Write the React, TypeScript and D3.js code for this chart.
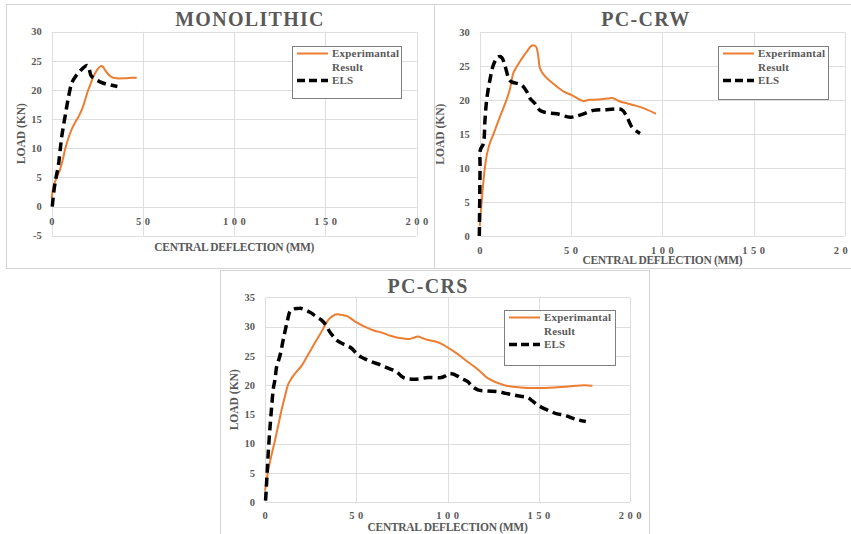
import React from "react";
import * as d3 from "d3";

type Pt = [number, number];

// Load–deflection readings, [central deflection (mm), load (kN)]
const monolithicExperimental: Pt[] = [
  [0, 1.5], [1, 3.5], [2.5, 4.8], [4.5, 6.3], [6, 8], [7.5, 10], [9, 11.6],
  [11, 13.3], [13, 14.5], [15, 15.6], [17, 17], [18.5, 18.5], [20, 20],
  [21.5, 21.2], [23, 22.4], [25, 23.5], [26.8, 24.1], [28, 24], [29.3, 23.4],
  [31, 22.7], [33, 22.2], [35.5, 22], [40, 22], [44, 22.1], [46.6, 22.1],
];
const monolithicELS: Pt[] = [
  [0.3, 0], [1.3, 2.9], [2.4, 5], [3.6, 6.9], [4.5, 9.3], [5.5, 12], [7.3, 15.4],
  [9.1, 18.6], [11, 21.2], [12.8, 22.2], [14.6, 22.9], [17, 23.7], [19.3, 24.2],
  [20.5, 23.6], [21.5, 22.5], [23, 22], [26.5, 21.4], [30, 21], [33, 20.8], [36, 20.6],
];

const crwExperimental: Pt[] = [
  [0, 1.5], [0.6, 3.5], [1.1, 5.1], [2, 8], [2.9, 10.2], [3.8, 11.8], [4.7, 12.9],
  [6, 14], [7.4, 14.9], [10, 16.8], [12.9, 18.8], [15, 20.3], [16.6, 21.7],
  [18.4, 24], [20, 24.8], [22, 25.7], [24, 26.5], [25.7, 27.1], [27.5, 27.8],
  [29, 28.1], [30.8, 27.9], [32.1, 26.4], [33, 24.7], [35.8, 23.5], [40, 22.5],
  [45.8, 21.3], [50, 20.8], [54, 20.2], [56.5, 19.9], [60, 20.05], [65, 20.1],
  [71.4, 20.3], [73, 20.3], [76.8, 19.8], [80, 19.6], [84, 19.3], [90, 18.8], [96.5, 18],
];
const crwELS: Pt[] = [
  [-0.2, 0], [0, 5], [0.2, 10], [0.4, 12.7], [2, 13.6], [2.9, 17.1], [3.8, 20],
  [5.6, 23], [7.8, 25.4], [10.2, 26.4], [12, 26.3], [13.9, 25], [16.2, 23],
  [17.5, 22.7], [23, 22.2], [25.7, 21.3], [27.5, 20.3], [30.3, 19.5], [33, 18.5],
  [35.8, 18.2], [42.2, 18], [49.5, 17.5], [54.9, 17.8], [62.2, 18.5], [69.6, 18.6],
  [77.8, 18.6], [80.5, 17.6], [83.2, 16.1], [86, 15.4], [87.8, 15.1],
];

const crsExperimental: Pt[] = [
  [0, 2], [1, 4], [1.8, 5.5], [3.5, 8], [5.5, 10.6], [7.3, 13.2], [9.1, 15.8],
  [11, 18.2], [12.8, 20.2], [14.6, 21.2], [17, 22.2], [20, 23.3], [22.5, 24.6],
  [25.5, 26.2], [28, 27.6], [30, 28.6], [32.5, 30], [34.6, 31.1], [37, 31.8],
  [39.5, 32.1], [42, 32], [45.5, 31.7], [49.2, 30.9], [54.6, 30], [60, 29.3],
  [63.8, 29], [69.2, 28.4], [74.7, 28], [79.2, 27.9], [81.5, 28.1], [83.8, 28.3],
  [86.5, 28], [89.3, 27.7], [93.8, 27.4], [97, 27], [100.2, 26.4], [105.6, 25.3],
  [111, 24], [117, 22.6], [122, 21.2], [131, 20], [140, 19.6], [149.4, 19.5],
  [158.5, 19.6], [167.6, 19.8], [174.9, 20], [179.4, 19.9],
];
const crsELS: Pt[] = [
  [0.3, 0.3], [1, 4], [1.8, 8.6], [2.8, 13], [3.7, 16.5], [4.6, 19.5], [5.5, 21],
  [6.4, 23.2], [7.5, 24.3], [8.5, 25.4], [9.7, 27.3], [10.9, 29.1], [12.3, 31],
  [13.7, 32.6], [15.5, 33], [18, 33.1], [20, 33.1], [23, 32.7], [25.5, 32.3],
  [28, 31.7], [31, 31.1], [33.5, 30.2], [35.5, 29.1], [37.5, 28.3], [39.2, 27.7],
  [43, 27], [47.4, 26.3], [51, 25.1], [54, 24.6], [58.3, 24], [63, 23.5],
  [67.4, 22.9], [72, 22.3], [74.5, 21.6], [76.5, 21.2], [82, 21], [89.3, 21.3],
  [96.6, 21.3], [99, 21.6], [101.1, 22], [103, 21.9], [105.7, 21.5], [108, 21.1],
  [111.1, 20.6], [113.5, 19.8], [116.6, 19.2], [122, 19], [127.5, 18.9], [132, 18.6],
  [136.6, 18.3], [140, 18.1], [143.9, 17.9], [146.5, 17.3], [149.4, 16.6], [153, 16],
  [156.7, 15.5], [160, 15.1], [164, 14.9], [168, 14.4], [171.2, 14.1], [175.8, 13.8],
];

const xTicks = [0, 50, 100, 150, 200];
const monolithicYTicks = [-5, 0, 5, 10, 15, 20, 25, 30];
const crwYTicks = [0, 5, 10, 15, 20, 25, 30];
const crsYTicks = [0, 5, 10, 15, 20, 25, 30, 35];

const seriesNames = ["Experimantal", "Result", "ELS"];
const xTitle = "CENTRAL DEFLECTION (MM)";
const yTitle = "LOAD (KN)";

const FONT = "'Liberation Serif', 'Times New Roman', serif";
const TEXT = "#595959";
const GRID = "#dedede";
const FRAME = "#d4d4d4";
const ORANGE = "#ED7D31";

interface PanelProps {
  title: string;
  titleX: number;
  titleY: number;
  frame: [number, number, number, number];
  xRange: [number, number];
  yRange: [number, number]; // [bottom, top] px
  yTicks: number[];
  xTickY: number;
  xTitleY: number;
  yTitleX: number;
  legend: [number, number, number, number];
  experimental: Pt[];
  els: Pt[];
}

function Panel(p: PanelProps) {
  const yDom: [number, number] = [p.yTicks[0], p.yTicks[p.yTicks.length - 1]];
  const x = d3.scaleLinear().domain([0, 200]).range(p.xRange);
  const y = d3.scaleLinear().domain(yDom).range(p.yRange);
  const line = d3
    .line<Pt>()
    .x((d) => x(d[0]))
    .y((d) => y(d[1]))
    .curve(d3.curveCatmullRom.alpha(0.5));
  const [fx0, fy0, fx1, fy1] = p.frame;
  const [lx, ly, lw, lh] = p.legend;
  const plotMidX = (p.xRange[0] + p.xRange[1]) / 2;
  const plotMidY = (p.yRange[0] + p.yRange[1]) / 2;
  return (
    <g>
      <rect x={fx0 + 0.5} y={fy0 + 0.5} width={fx1 - fx0} height={fy1 - fy0} fill="white" stroke={FRAME} strokeWidth={1} />
      <text x={p.titleX} y={p.titleY} textAnchor="middle" fontFamily={FONT} fontWeight="bold" fontSize={20} letterSpacing={1.3} fill={TEXT}>
        {p.title}
      </text>
      {p.yTicks.map((t) => (
        <line key={"h" + t} x1={p.xRange[0]} x2={p.xRange[1]} y1={Math.round(y(t)) + 0.5} y2={Math.round(y(t)) + 0.5} stroke={GRID} strokeWidth={1} />
      ))}
      {xTicks.map((t) => (
        <line key={"v" + t} x1={Math.round(x(t)) + 0.5} x2={Math.round(x(t)) + 0.5} y1={p.yRange[1]} y2={p.yRange[0]} stroke={GRID} strokeWidth={1} />
      ))}
      {p.yTicks.map((t) => (
        <text key={"yl" + t} x={p.xRange[0] - 10} y={y(t)} dy="0.35em" textAnchor="end" fontFamily={FONT} fontWeight="bold" fontSize={10.5} fill={TEXT}>
          {t}
        </text>
      ))}
      {xTicks.map((t) => (
        <text key={"xl" + t} x={x(t) + 1.8} y={p.xTickY} dy="0.35em" textAnchor="middle" fontFamily={FONT} fontWeight="bold" fontSize={10.5} letterSpacing={3.5} fill={TEXT}>
          {t}
        </text>
      ))}
      <text x={plotMidX} y={p.xTitleY} dy="0.35em" textAnchor="middle" fontFamily={FONT} fontWeight="bold" fontSize={11.5} letterSpacing={-0.3} fill={TEXT}>
        {xTitle}
      </text>
      <text transform={`translate(${p.yTitleX},${plotMidY}) rotate(-90)`} dy="0.35em" textAnchor="middle" fontFamily={FONT} fontWeight="bold" fontSize={11.5} fill={TEXT}>
        {yTitle}
      </text>
      <path d={line(p.experimental) ?? ""} fill="none" stroke={ORANGE} strokeWidth={2} strokeLinejoin="round" />
      <path d={line(p.els) ?? ""} fill="none" stroke="#000" strokeWidth={3.5} strokeDasharray="9,5" />
      <rect x={lx + 0.5} y={ly + 0.5} width={lw} height={lh} fill="white" stroke="#7f7f7f" strokeWidth={1} />
      <line x1={lx + 5} x2={lx + 36} y1={ly + 7.5} y2={ly + 7.5} stroke={ORANGE} strokeWidth={2} />
      <line x1={lx + 5} x2={lx + 36} y1={ly + 34.5} y2={ly + 34.5} stroke="#000" strokeWidth={3.5} strokeDasharray="8,4" />
      {seriesNames.map((s, i) => (
        <text key={s} x={lx + 40} y={ly + [7.5, 21, 34.5][i]} dy="0.35em" fontFamily={FONT} fontWeight="bold" fontSize={11} letterSpacing={0.2} fill={TEXT}>
          {s}
        </text>
      ))}
    </g>
  );
}

export default function App() {
  return (
    <svg width={851} height={534} style={{ position: "absolute", left: 0, top: 0, background: "white" }}>
      <Panel
        title="MONOLITHIC"
        titleX={250}
        titleY={26}
        frame={[6, 4, 434, 268]}
        xRange={[51.7, 416.7]}
        yRange={[235.7, 31.7]}
        yTicks={monolithicYTicks}
        xTickY={221.7}
        xTitleY={247}
        yTitleX={21}
        legend={[292, 46, 109, 52]}
        experimental={monolithicExperimental}
        els={monolithicELS}
      />
      <Panel
        title="PC-CRW"
        titleX={646}
        titleY={26}
        frame={[434, 4, 853, 268]}
        xRange={[479.7, 845]}
        yRange={[236, 32.3]}
        yTicks={crwYTicks}
        xTickY={250}
        xTitleY={260}
        yTitleX={440}
        legend={[718, 46, 110, 53]}
        experimental={crwExperimental}
        els={crwELS}
      />
      <Panel
        title="PC-CRS"
        titleX={428}
        titleY={292.5}
        frame={[220, 270, 649, 540]}
        xRange={[265, 630]}
        yRange={[502.3, 297.3]}
        yTicks={crsYTicks}
        xTickY={515.7}
        xTitleY={526.7}
        yTitleX={234}
        legend={[504, 310, 111, 55]}
        experimental={crsExperimental}
        els={crsELS}
      />
    </svg>
  );
}
